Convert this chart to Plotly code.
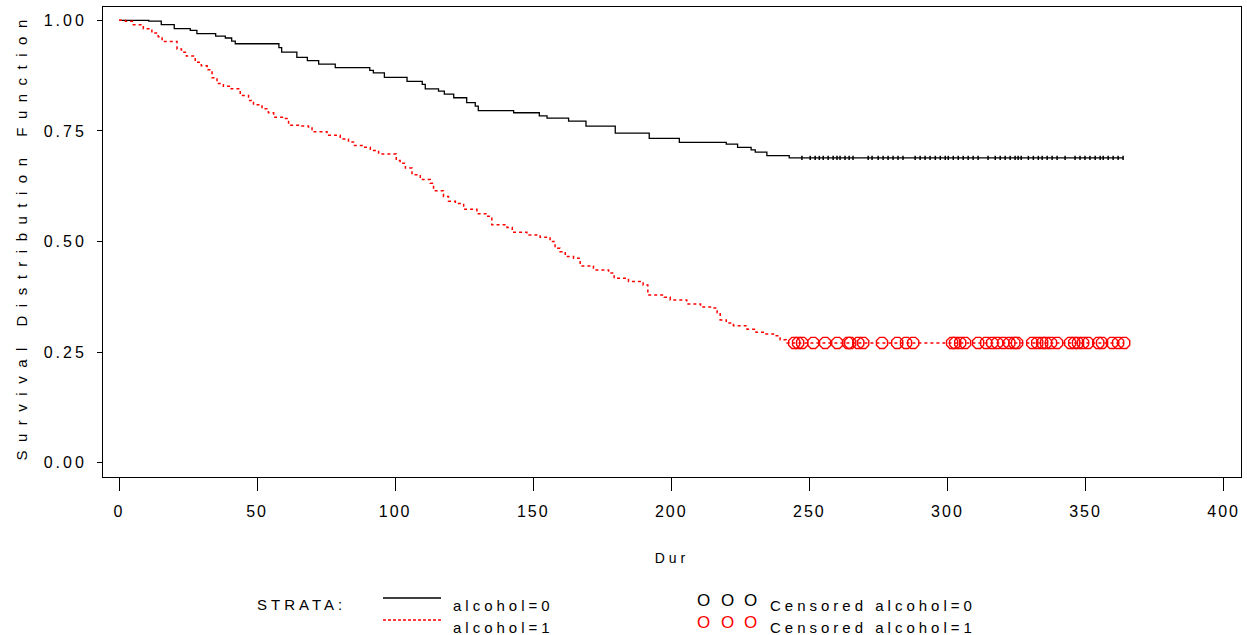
import plotly.graph_objects as go

# ---- Data ----
# alcohol=0 (black solid) : step times and survival estimates
t0 = [0, 10.8, 15.3, 20.0, 25.8, 28.2, 35.0, 38.5, 40.8, 42.1, 57.9, 58.9, 64.4, 68.2, 72.3,
      78.3, 90.8, 92.1, 96.1, 104.3, 109.8, 110.9, 115.7, 117.8, 121.2, 125.9, 129.0, 130.1,
      142.9, 152.2, 155.0, 162.8, 169.1, 179.7, 192.0, 202.9, 219.9, 224.0, 228.9, 230.4,
      234.6, 242.7, 363.6]
s0 = [1.0, 0.998, 0.990, 0.981, 0.977, 0.970, 0.964, 0.960, 0.953, 0.947, 0.938, 0.928, 0.916,
      0.909, 0.901, 0.893, 0.887, 0.881, 0.871, 0.862, 0.855, 0.845, 0.840, 0.833, 0.825, 0.814,
      0.806, 0.796, 0.791, 0.784, 0.779, 0.772, 0.761, 0.745, 0.733, 0.724, 0.720, 0.713, 0.707,
      0.702, 0.694, 0.689, 0.689]

# alcohol=1 (red dashed)
t1 = [0, 2.3, 5.2, 8.8, 11.9, 14.2, 15.6, 21.0, 22.6, 24.4, 27.6, 29.8, 31.9, 33.7, 35.5, 37.8,
      40.3, 43.9, 46.9, 48.7, 51.8, 54.1, 56.0, 59.6, 61.4, 65.6, 68.6, 69.9, 75.3, 80.1, 83.1,
      84.9, 88.6, 91.0, 94.0, 100.4, 101.8, 103.7, 106.1, 109.1, 112.7, 113.9, 117.5, 119.3,
      121.8, 124.8, 129.6, 133.2, 135.0, 140.5, 142.4, 147.7, 152.5, 156.1, 157.9, 159.7, 161.6,
      164.6, 167.0, 171.8, 177.3, 179.3, 184.5, 189.8, 191.5, 197.4, 199.6, 205.6, 210.6, 214.7,
      216.6, 217.7, 219.9, 222.5, 227.4, 230.7, 233.6, 237.6, 239.4, 241.6, 364.0]
s1 = [1.0, 0.998, 0.990, 0.981, 0.971, 0.963, 0.952, 0.935, 0.928, 0.919, 0.905, 0.897, 0.888,
      0.870, 0.857, 0.851, 0.845, 0.830, 0.819, 0.809, 0.800, 0.791, 0.781, 0.778, 0.763, 0.761,
      0.759, 0.748, 0.740, 0.732, 0.725, 0.717, 0.713, 0.706, 0.698, 0.683, 0.677, 0.666, 0.651,
      0.640, 0.632, 0.615, 0.602, 0.591, 0.586, 0.573, 0.563, 0.557, 0.538, 0.532, 0.521, 0.515,
      0.510, 0.500, 0.485, 0.477, 0.466, 0.462, 0.445, 0.436, 0.429, 0.417, 0.410, 0.402, 0.379,
      0.374, 0.368, 0.359, 0.352, 0.350, 0.339, 0.323, 0.316, 0.310, 0.302, 0.295, 0.291, 0.287,
      0.278, 0.271, 0.271]

# censored observation times
c0 = [247.3, 250.3, 252.1, 253.6, 255.0, 256.8, 258.6, 260.0, 261.1, 262.9, 264.4, 265.8,
      271.3, 272.7, 274.9, 276.7, 278.5, 280.3, 282.1, 283.9, 288.3, 290.1, 291.9, 293.7,
      295.6, 297.4, 299.2, 300.3, 302.1, 303.9, 305.7, 307.5, 309.3, 311.1, 314.7, 317.3,
      319.1, 320.9, 322.7, 324.5, 325.6, 326.7, 329.3, 331.1, 332.9, 334.3, 336.1, 337.9,
      339.7, 342.6, 346.2, 348.0, 349.8, 351.6, 353.5, 355.3, 356.4, 358.2, 360.0, 361.8, 363.6]
c0_s = 0.689
c1 = [244.5, 245.9, 247.4, 251.4, 255.7, 260.1, 264.0, 264.8, 267.7, 269.5, 276.3, 281.8,
      285.0, 287.6, 301.7, 302.8, 304.6, 306.4, 311.1, 314.0, 316.2, 318.0, 320.2, 322.4,
      324.2, 325.2, 330.7, 332.5, 334.3, 335.7, 337.5, 339.7, 344.4, 345.9, 347.3, 349.1,
      350.9, 354.6, 356.0, 359.6, 361.8, 364.0]
c1_s = 0.271

x_ticks = [0, 50, 100, 150, 200, 250, 300, 350, 400]
y_ticks = [0.0, 0.25, 0.5, 0.75, 1.0]
y_ticktext = ["0.00", "0.25", "0.50", "0.75", "1.00"]

FONT = "Liberation Sans, Arial, sans-serif"
W, H = 1247, 635
ML, MR, MT, MB = 103, 6, 7, 158

fig = go.Figure()
fig.add_trace(go.Scatter(x=t0, y=s0, mode="lines", line=dict(color="black", width=1.3, shape="hv"),
                         showlegend=False, hoverinfo="skip"))
fig.add_trace(go.Scatter(x=t1, y=s1, mode="lines",
                         line=dict(color="red", width=1.5, shape="hv", dash="3px,3px"),
                         showlegend=False, hoverinfo="skip"))
fig.add_trace(go.Scatter(x=c0, y=[c0_s] * len(c0), mode="markers",
                         marker=dict(symbol="line-ns-open", size=3, color="black",
                                     line=dict(color="black", width=1.5)),
                         showlegend=False, hoverinfo="skip"))
fig.add_trace(go.Scatter(x=c1, y=[c1_s] * len(c1), mode="markers",
                         marker=dict(symbol="octagon-open", size=12, color="red",
                                     line=dict(color="red", width=1.4)),
                         showlegend=False, hoverinfo="skip"))

pw = W - ML - MR
ph = H - MT - MB


def px_x(px):
    return (px - ML) / pw


def px_y(py):
    return (H - MB - py) / ph


annos = []
shapes = []


def txt(text, px, py, color="black", size=15, angle=0):
    annos.append(dict(text=text, x=px_x(px), y=px_y(py), xref="paper", yref="paper",
                      xanchor="center", yanchor="middle", showarrow=False, textangle=angle,
                      font=dict(family=FONT, size=size, color=color)))


# y-axis title (index 0, styled separately)
txt("Survival Distribution Function", 21, 236, size=15, angle=-90)

txt("STRATA:", 301, 604)
shapes.append(dict(type="line", xref="paper", yref="paper", x0=px_x(383), x1=px_x(441),
                   y0=px_y(598), y1=px_y(598), line=dict(color="black", width=1.3)))
txt("alcohol=0", 503, 605)
shapes.append(dict(type="line", xref="paper", yref="paper", x0=px_x(383), x1=px_x(441),
                   y0=px_y(620), y1=px_y(620), line=dict(color="red", width=1.3, dash="3px,2px")))
txt("alcohol=1", 503, 627)
for cx in (705, 729, 752):
    txt("O", cx, 600, size=17)
    txt("O", cx, 622, color="red", size=17)
txt("Censored alcohol=0", 873, 605)
txt("Censored alcohol=1", 873, 627)

fig.update_layout(
    width=W, height=H,
    margin=dict(l=ML, r=MR, t=MT, b=MB),
    paper_bgcolor="white", plot_bgcolor="white",
    font=dict(family=FONT, color="black"),
    annotations=annos, shapes=shapes,
    xaxis=dict(range=[-5.8, 406.3], tickvals=x_ticks, ticks="outside", ticklen=13, tickwidth=1,
               tickcolor="black", showline=True, mirror=True, linecolor="black", linewidth=1,
               showgrid=False, zeroline=False, tickfont=dict(size=16, family=FONT, color="black"),
               ticklabelstandoff=7,
               title=dict(text="Dur", font=dict(size=14, family=FONT, color="black"), standoff=33)),
    yaxis=dict(range=[-0.032, 1.03], tickvals=y_ticks, ticktext=y_ticktext, ticks="outside",
               ticklen=5, tickwidth=1, tickcolor="black", showline=True, mirror=True,
               linecolor="black", linewidth=1, showgrid=False, zeroline=False,
               tickfont=dict(size=16, family=FONT, color="black"), ticklabelstandoff=7),
)

post = """
var st = document.createElement('style');
st.textContent = 'body{margin:0;} .xtick text {letter-spacing:2px;} .ytick text {letter-spacing:3px;} ' +
  '.g-xtitle text {letter-spacing:4px;} ' +
  '.annotation-text {letter-spacing:4px;} ' +
  '.annotation[data-index="0"] .annotation-text {letter-spacing:8.5px;}';
document.head.appendChild(st);
"""
fig.write_html("out.html", post_script=post, config={"displayModeBar": False})
